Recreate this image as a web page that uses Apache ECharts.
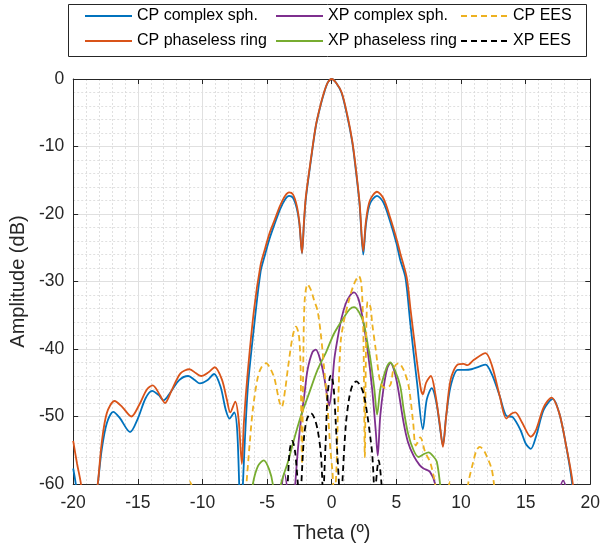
<!DOCTYPE html>
<html>
<head>
<meta charset="utf-8">
<script src="https://cdn.jsdelivr.net/npm/echarts@6/dist/echarts.min.js"></script>
<style>html,body{margin:0;padding:0;background:#fff}#c{width:603px;height:548px}</style>
</head>
<body>
<div id="c"></div>
<script>
// ---- data (theta in degrees, amplitude in dB; null = gap) ----
const xTicks = [-20,-15,-10,-5,0,5,10,15,20];
const yTicks = [-60,-50,-40,-30,-20,-10,0];

const cpSphTheta = [-20,-19.8,-19.0,-18.1,-17.8,-17.4,-16.9,-16.4,-15.6,-15.0,-14.4,-13.9,-13.4,-13.0,-12.5,-11.8,-11.1,-10.6,-10.2,-9.6,-9.1,-8.6,-8.2,-7.9,-7.55,-7.3,-7.0,-6.87,-6.5,-6.0,-5.5,-5.2,-4.8,-4.44,-4.0,-3.6,-3.3,-3.0,-2.7,-2.5,-2.3,-2.15,-2.0,-1.6,-1.23,-0.9,-0.6,-0.3,0,0.35,0.77,1.2,1.59,1.85,2.15,2.44,2.65,2.95,3.5,4.0,4.5,5.0,5.3,5.7,6.08,6.6,7.05,7.35,7.74,8.1,8.4,8.6,8.85,9.2,9.75,10.3,10.8,11.4,11.9,12.4,13.0,13.5,14.0,14.6,15.0,15.4,15.8,16.4,17.1,17.6,18.1,18.6,19.0,20];
const cpSphAmp   = [-57.7,-60,-72,-60,-55,-51,-49.3,-50.2,-52.3,-50.3,-47.3,-46.2,-46.8,-47.6,-46.5,-44.6,-44.0,-44.6,-45.1,-44.6,-43.7,-45.6,-49,-50.3,-49.4,-52.5,-68,-60,-46,-36.5,-28.5,-26.3,-23.6,-21.6,-19.3,-17.8,-17.3,-17.6,-19.2,-21.5,-25.8,-21.5,-17.7,-11.9,-7.0,-4.2,-2.1,-0.5,0,-0.6,-2.1,-5.5,-9.4,-13.3,-18.5,-26.0,-21.5,-18.5,-17.3,-18.3,-21.0,-24.3,-26.8,-29.4,-36.2,-45,-51.9,-47.5,-45.8,-48,-52,-54.3,-50,-45.5,-43.1,-43.1,-43.0,-42.6,-42.3,-43.8,-47,-49.9,-50.1,-52,-54,-54.8,-53,-49,-47.4,-49.5,-54,-60,-70,-80];

const cpRingTheta = [-20,-19.7,-19.4,-18.8,-18.1,-17.8,-17.4,-16.8,-16.2,-15.5,-14.9,-14.3,-13.85,-13.3,-12.9,-12.4,-11.7,-11.0,-10.5,-10.1,-9.5,-9.05,-8.5,-8.1,-7.85,-7.46,-7.2,-6.95,-6.8,-6.5,-6.0,-5.5,-5.2,-4.8,-4.4,-4.0,-3.6,-3.3,-3.0,-2.7,-2.5,-2.3,-2.15,-2.0,-1.6,-1.23,-0.9,-0.6,-0.3,0,0.35,0.77,1.2,1.59,1.85,2.15,2.44,2.65,2.95,3.5,4.0,4.5,5.0,5.3,5.8,6.1,6.6,6.9,7.05,7.3,7.67,8.0,8.35,8.6,8.85,9.2,9.75,10.2,10.5,11.0,11.9,12.4,13.0,13.5,13.9,14.2,14.7,15.4,15.8,16.4,17.0,17.6,18.1,18.65,19.0,20];
const cpRingAmp   = [-53.6,-57,-60,-70,-60,-54,-49.5,-47.7,-48.6,-50.0,-48.3,-46.0,-45.4,-46.8,-48.0,-46.2,-43.6,-43.0,-43.6,-44.0,-43.4,-42.7,-44.5,-47.6,-49.4,-47.8,-50.5,-57,-51,-43.5,-34,-27.5,-25.4,-22.8,-20.8,-18.8,-17.3,-16.8,-17.1,-18.8,-21.3,-25.8,-21.2,-17.4,-11.7,-6.9,-4.1,-2.0,-0.5,0,-0.6,-2.0,-5.3,-9.2,-13.0,-18.2,-25.5,-21,-18.0,-16.7,-17.7,-20.4,-23.6,-25.8,-29.4,-34.2,-42,-46,-46.7,-45,-44.0,-46.5,-51,-54.5,-50,-44.5,-42.3,-42.2,-42.4,-41.6,-40.6,-42.5,-47,-50.3,-49.6,-49.4,-50.8,-53.0,-52,-48.6,-47.2,-49.5,-54,-60,-70,-80];

const xpSphTheta = [-4.0,-3.67,-3.3,-3.1,-2.95,-2.82,-2.6,-2.38,-2.13,-1.87,-1.5,-1.23,-0.9,-0.6,-0.35,-0.2,0.0,0.2,0.44,0.75,1.08,1.4,1.72,2.05,2.3,2.49,2.8,3.13,3.4,3.56,3.75,4.03,4.3,4.54,4.8,5.1,5.56,5.9,6.33,6.8,7.1,7.6,8.0,8.3,17.5,17.6,17.9,18.2];
const xpSphAmp   = [-63,-58.4,-63,null,-64,-60,-54.5,-50.5,-47,-43.1,-40.5,-40.1,-41.5,-44,-47,-48.4,-46,-41.5,-38.6,-35.5,-33.3,-32.1,-31.6,-32.5,-34.5,-36.5,-40.5,-46,-52,-55.8,-50,-45.5,-42.8,-42.1,-43,-45.5,-50.9,-53.8,-55.8,-57.2,-57.7,-58.2,-60,-65,null,-61,-59.5,-61];

const xpRingTheta = [-6.3,-6.1,-5.7,-5.26,-4.85,-4.56,-4.4,-4.2,-4.1,-3.92,-3.4,-2.9,-2.38,-1.74,-1.1,-0.4,0.18,0.95,1.4,1.72,2.1,2.49,2.8,3.0,3.3,3.51,3.75,4.03,4.3,4.54,4.9,5.3,5.56,5.9,6.33,6.72,7.1,7.49,7.9,8.13,8.38,8.6];
const xpRingAmp   = [-64,-60,-57.3,-56.5,-57.8,-60,-64,null,-64,-60,-56.8,-53.3,-49.9,-46.5,-43.1,-40.3,-37.7,-35.3,-34.1,-33.8,-34.5,-36.3,-39.5,-41.6,-46,-49.7,-46,-44,-42.5,-42,-43.2,-45.5,-48.9,-52.5,-55.0,-56.0,-55.6,-55.3,-56,-56.7,-60,-64];

const cpEesTheta = [-11.3,-11.0,-10.7,-10.6,-6.8,-6.6,-6.36,-6.1,-5.7,-5.4,-5.08,-4.75,-4.44,-4.05,-3.87,-3.6,-3.4,-3.03,-2.77,-2.55,-2.42,-2.3,-2.2,-2.1,-1.87,-1.6,-1.36,-1.1,-0.85,-0.6,-0.33,-0.1,0.05,0.2,0.35,0.5,0.69,0.95,1.33,1.72,2.1,2.3,2.45,2.56,2.65,2.78,3.0,3.13,3.4,3.77,4.15,4.54,4.8,5.18,5.56,5.95,6.3,6.5,6.85,7.23,7.6,7.87,8.0,8.2,8.5,8.9,9.15,9.4,9.6,10.4,10.6,10.95,11.2,11.46,11.75,11.97,12.36,12.55,12.7];
const cpEesAmp   = [-61,-59.6,-61,null,-64,-60,-54.3,-48.9,-44,-42.6,-42.1,-42.9,-44.3,-47.8,-48.6,-46,-43,-38.2,-36.7,-37.8,-42,-57,-42,-33,-30.4,-31.3,-32.8,-34.3,-37.7,-42.6,-48.4,-55,-58,-62,-58.5,-48,-39,-35.8,-32.8,-30.4,-29.2,-30.5,-38,-56,-40,-33,-33.8,-36.2,-40,-45,-45.8,-45.3,-42.8,-42.1,-43.1,-45.5,-50.9,-54.3,-53.1,-55.3,-56.7,-58.7,-60,-64,null,-62,-59.7,-62,null,-62,-59.5,-56.7,-55,-54.5,-55,-55.8,-57.7,-60,-63];

const xpEesTheta = [-3.55,-3.41,-3.25,-3.05,-2.85,-2.62,-2.5,-2.46,-2.42,-2.35,-2.13,-1.9,-1.6,-1.35,-1.1,-0.85,-0.72,-0.66,-0.65,-0.64,-0.6,-0.46,-0.33,-0.15,-0.05,0.1,0.18,0.31,0.44,0.56,0.62,0.7,0.75,0.82,1.08,1.33,1.6,1.9,2.23,2.49,2.74,3.0,3.13,3.26,3.32,3.34,3.36,3.42,3.63,3.85,3.92];
const xpEesAmp   = [-64,-60,-55,-53.6,-55,-60,-64,null,-64,-60,-52.8,-50.3,-49.5,-50.2,-51.9,-55.3,-60,-64,null,-64,-60,-53.3,-47,-44.2,-43.9,-45,-46.5,-50.9,-55.8,-60,-64,null,-64,-60,-51.5,-47.5,-45.4,-44.8,-45.5,-46.8,-49.6,-53.3,-55.5,-60,-64,null,-64,-60,-56.5,-60,-64];

const seriesNames = ['CP complex sph.','CP phaseless ring','XP complex sph.','XP phaseless ring','CP EES','XP EES'];
const seriesColors = ['#0072BD','#D95319','#7E2F8E','#77AC30','#EDB120','#000000'];

// ---- build ----
const zip = (t, a) => t.map((v, i) => [v, a[i] === null ? null : a[i]]);
const dataSets = [zip(cpSphTheta,cpSphAmp), zip(cpRingTheta,cpRingAmp), zip(xpSphTheta,xpSphAmp), zip(xpRingTheta,xpRingAmp), zip(cpEesTheta,cpEesAmp), zip(xpEesTheta,xpEesAmp)];
const dashed = [false,false,false,false,true,true];

const FONT = 'Liberation Sans, Arial, Helvetica, sans-serif';
const TXT = '#262626';
const AX = '#262626';

const series = dataSets.map((d, i) => ({
  name: seriesNames[i], type: 'line', data: d, symbol: 'none', showSymbol: false,
  smooth: 0.3, connectNulls: false, clip: true, z: 3 + i,
  lineStyle: { color: seriesColors[i], width: 1.8, type: dashed[i] ? [6, 4] : 'solid' },
  itemStyle: { color: seriesColors[i] }
}));

const legendCommon = {
  orient: 'vertical', top: 7, padding: 0, itemGap: 7, itemWidth: 47, itemHeight: 14,
  selectedMode: false,
  itemStyle: { opacity: 0, borderWidth: 0 },
  textStyle: { fontFamily: FONT, fontSize: 16, color: '#000', lineHeight: 18 }
};

const chart = echarts.init(document.getElementById('c'), null, { renderer: 'canvas' });
chart.setOption({
  animation: false,
  backgroundColor: '#fff',
  grid: { left: 71, right: 12, top: 79, bottom: 59, containLabel: false },
  legend: [
    Object.assign({}, legendCommon, { left: 84, data: [seriesNames[0], seriesNames[1]] }),
    Object.assign({}, legendCommon, { left: 275, data: [seriesNames[2], seriesNames[3]] }),
    Object.assign({}, legendCommon, { left: 460, data: [seriesNames[4], seriesNames[5]] })
  ],
  graphic: [{
    type: 'rect', shape: { x: 68.5, y: 4.5, width: 518, height: 52 },
    style: { fill: '#fff', stroke: '#262626', lineWidth: 1 }, z: 0, silent: true
  }],
  xAxis: [{
    type: 'value', min: xTicks[0], max: xTicks[xTicks.length - 1], interval: 5, position: 'bottom',
    name: 'Theta (º)', nameLocation: 'middle', nameGap: 39,
    nameTextStyle: { fontFamily: FONT, fontSize: 20, color: TXT },
    axisLine: { show: true, onZero: false, lineStyle: { color: AX, width: 1 } },
    axisTick: { show: true, inside: true, length: 5, lineStyle: { color: AX } },
    axisLabel: { fontFamily: FONT, fontSize: 17.5, color: TXT, margin: 10 },
    splitLine: { show: true, lineStyle: { color: '#e0e0e0', width: 1 } },
    minorTick: { show: false, splitNumber: 5 },
    minorSplitLine: { show: true, lineStyle: { color: '#d8d8d8', width: 0.8, type: [2, 2] } }
  }, {
    type: 'value', min: xTicks[0], max: xTicks[xTicks.length - 1], interval: 5, position: 'top',
    axisLine: { show: true, onZero: false, lineStyle: { color: AX, width: 1 } },
    axisTick: { show: true, inside: true, length: 5, lineStyle: { color: AX } },
    axisLabel: { show: false }, splitLine: { show: false }
  }],
  yAxis: [{
    type: 'value', min: yTicks[0], max: yTicks[yTicks.length - 1], interval: 10, position: 'left',
    name: 'Amplitude (dB)', nameLocation: 'middle', nameGap: 32,
    nameTextStyle: { fontFamily: FONT, fontSize: 20, color: TXT },
    axisLine: { show: true, onZero: false, lineStyle: { color: AX, width: 1 } },
    axisTick: { show: true, inside: true, length: 5, lineStyle: { color: AX } },
    axisLabel: { fontFamily: FONT, fontSize: 17.5, color: TXT, margin: 9 },
    splitLine: { show: true, lineStyle: { color: '#e0e0e0', width: 1 } },
    minorTick: { show: false, splitNumber: 5 },
    minorSplitLine: { show: true, lineStyle: { color: '#d8d8d8', width: 0.8, type: [2, 2] } }
  }, {
    type: 'value', min: yTicks[0], max: yTicks[yTicks.length - 1], interval: 10, position: 'right',
    axisLine: { show: true, onZero: false, lineStyle: { color: AX, width: 1 } },
    axisTick: { show: true, inside: true, length: 5, lineStyle: { color: AX } },
    axisLabel: { show: false }, splitLine: { show: false }
  }],
  series: series
});
</script>
</body>
</html>
